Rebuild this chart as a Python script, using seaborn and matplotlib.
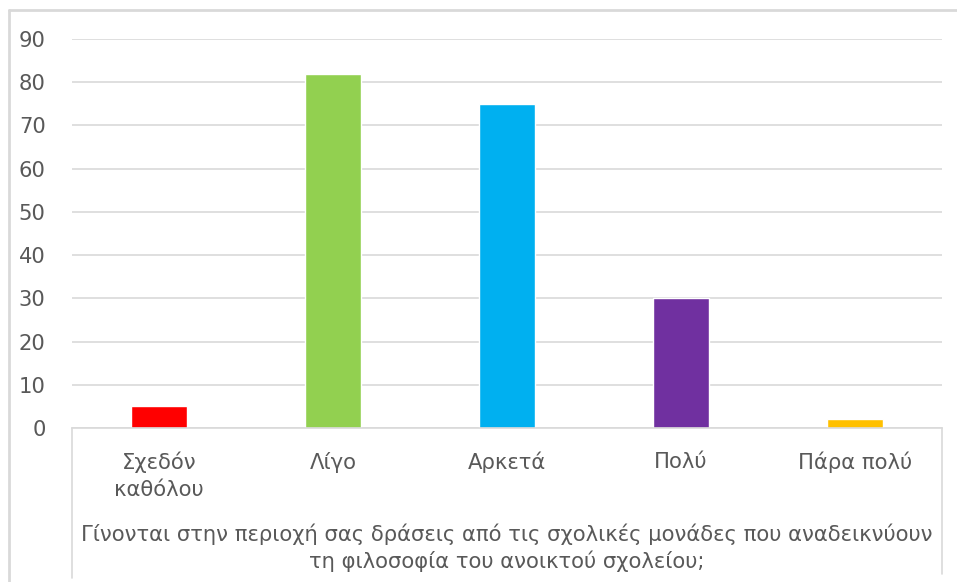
import matplotlib
matplotlib.use("Agg")
import matplotlib.pyplot as plt
from matplotlib.lines import Line2D
import seaborn as sns
import pandas as pd

categories = ["Σχεδόν\nκαθόλου", "Λίγο", "Αρκετά", "Πολύ", "Πάρα πολύ"]
values = [5, 82, 75, 30, 2]
colors = ["#FF0000", "#92D050", "#00B0F0", "#7030A0", "#FFC000"]
yticks = [0, 10, 20, 30, 40, 50, 60, 70, 80, 90]
xtitle = "Γίνονται στην περιοχή σας δράσεις από τις σχολικές μονάδες που αναδεικνύουν\nτη φιλοσοφία του ανοικτού σχολείου;"

sns.set_style("white")
plt.rcParams["font.family"] = ["DejaVu Sans"]

W, H = 957, 582
fig = plt.figure(figsize=(W / 100, H / 100), dpi=100)
ax = fig.add_axes([72 / W, 1 - 428 / H, (942 - 72) / W, (428 - 39) / H])

df = pd.DataFrame({"cat": categories, "val": values})
sns.barplot(data=df, x="cat", y="val", hue="cat", palette=colors,
            legend=False, width=0.32, ax=ax, saturation=1)

fs = 15.2
ax.set_ylim(0, 90)
ax.set_xlim(-0.5, 4.5)
ax.set_yticks(yticks)
ax.yaxis.grid(True, color="#d9d9d9", linewidth=1.2)
ax.set_axisbelow(True)
for s in ["left", "right", "top"]:
    ax.spines[s].set_visible(False)
ax.spines["bottom"].set_color("#d9d9d9")
ax.spines["bottom"].set_linewidth(1.2)
ax.tick_params(axis="y", length=0, pad=19, labelsize=fs, labelcolor="#595959")
ax.tick_params(axis="x", length=0, pad=17, labelsize=fs, labelcolor="#595959")
for lbl in ax.get_xticklabels():
    lbl.set_linespacing(1.4)
ax.set_ylabel("")
ax.set_xlabel(xtitle, fontsize=fs, color="#595959", labelpad=17, linespacing=1.35)

# frame lines
lc = "#d9d9d9"
fig.add_artist(Line2D([9 / W, 9 / W], [0, 1 - 10 / H], color=lc, linewidth=2, transform=fig.transFigure))
fig.add_artist(Line2D([9 / W, 1], [1 - 10 / H, 1 - 10 / H], color=lc, linewidth=2, transform=fig.transFigure))
fig.add_artist(Line2D([72 / W, 72 / W], [1 - 428 / H, 1 - 578 / H], color=lc, linewidth=1.2, transform=fig.transFigure))
fig.add_artist(Line2D([942 / W, 942 / W], [1 - 428 / H, 1 - 574 / H], color=lc, linewidth=1.2, transform=fig.transFigure))

fig.savefig("out.png", dpi=100)
